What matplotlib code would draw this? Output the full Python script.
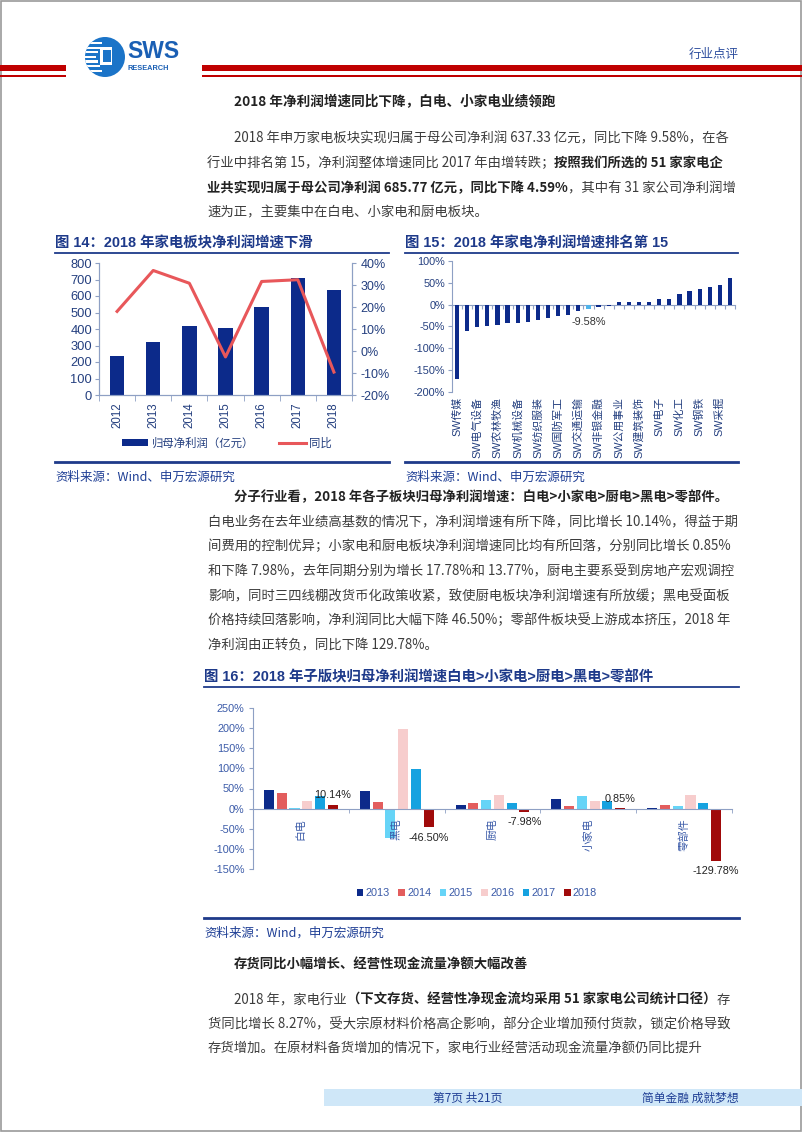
import numpy as np
import matplotlib
matplotlib.use('Agg')
import matplotlib.pyplot as plt
from matplotlib.patches import Rectangle, Circle

plt.rcParams['font.family'] = ['Liberation Sans', 'Noto Sans CJK SC']
BODY = ['Noto Sans CJK SC', 'DejaVu Sans']

# ---- data ----
years14 = ['2012', '2013', '2014', '2015', '2016', '2017', '2018']
profit14 = [238, 322, 420, 407, 536, 707, 637.33]          # 亿元
yoy14 = [18.0, 36.6, 30.8, -2.7, 31.6, 32.4, -9.58]          # %

industries15 = ['SW传媒', 'SW通信', 'SW电气设备', 'SW计算机', 'SW农林牧渔', 'SW综合',
                'SW机械设备', 'SW汽车', 'SW纺织服装', 'SW轻工制造', 'SW国防军工', 'SW商业贸易',
                'SW交通运输', 'SW家用电器', 'SW非银金融', 'SW医药生物', 'SW公用事业', 'SW银行',
                'SW建筑装饰', 'SW休闲服务', 'SW电子', 'SW有色金属', 'SW化工', 'SW房地产',
                'SW钢铁', 'SW食品饮料', 'SW采掘', 'SW建筑材料']
growth15 = [-171, -60, -51, -49, -47, -43, -42, -40, -35, -31, -27, -24, -14, -9.58,
            -6, -4, 5, 6, 6, 7, 12, 14, 25, 32, 35, 40, 45, 62]
highlight15 = 'SW家用电器'

sectors16 = ['白电', '黑电', '厨电', '小家电', '零部件']
years16 = ['2013', '2014', '2015', '2016', '2017', '2018']
growth16 = {
    '2013': [45.8, 43, 9, 25, 2.5],
    '2014': [38, 17, 15, 7.5, 9],
    '2015': [0.5, -72, 21, 31, 7.5],
    '2016': [20, 197, 35, 20, 35],
    '2017': [32, 98, 13.77, 17.78, 14],
    '2018': [10.14, -46.50, -7.98, 0.85, -129.78],
}
colors16 = ['#0c2a8a', '#e35d5d', '#66d4f7', '#f7cdcd', '#16a2e0', '#a00a0a']

W, H = 802, 1133
NAVY = '#0c2a8a'
AX = '#8ea0c4'
TICK = '#243f7f'
TITLE = '#1e3a8a'
SRC = '#1f3f95'
TXT = '#3c3c3c'

fig = plt.figure(figsize=(W / 100, H / 100), dpi=100)
bg = fig.add_axes([0, 0, 1, 1], zorder=0)
bg.set_xlim(0, W)
bg.set_ylim(H, 0)
bg.axis('off')
renderer = fig.canvas.get_renderer()


def box(x0, y0, x1, y1):
    return [x0 / W, 1 - y1 / H, (x1 - x0) / W, (y1 - y0) / H]


def line(x, y, parts, size=9.6, color=TXT):
    for s, bold in parts:
        t = bg.text(x, y, s, fontsize=size, family=BODY, color='#222222' if bold else color,
                    fontweight='bold' if bold else 'normal', va='center', ha='left')
        x += t.get_window_extent(renderer).width


# ---- page frame and header ----
bg.add_patch(Rectangle((0.5, 0.5), W - 1.5, H - 3, fill=False, ec='#9a9a9a', lw=1.2))
bg.add_patch(Rectangle((0, 65), 66, 6, color='#c00000', lw=0))
bg.add_patch(Rectangle((0, 75), 66, 1.5, color='#c00000', lw=0))
bg.add_patch(Rectangle((202, 65), 600, 6, color='#c00000', lw=0))
bg.add_patch(Rectangle((202, 75), 600, 1.5, color='#c00000', lw=0))
logo = Circle((105, 57), 20, color='#1b74c8', lw=0)
bg.add_patch(logo)
for k in range(7):
    s = Rectangle((84, 42 + k * 4.6), 12 + 2 * abs(3 - k), 2.2, color='white', lw=0)
    bg.add_patch(s)
    s.set_clip_path(logo)
bg.add_patch(Rectangle((100, 47), 12, 18, color='white', lw=0))
bg.add_patch(Rectangle((103, 50), 8, 12, color='#1b74c8', lw=0))
bg.text(127, 52, 'SWS', fontsize=16.5, fontweight='bold', color='#1a5fb4', va='center', ha='left')
bg.text(128, 68.5, 'RESEARCH', fontsize=5.3, fontweight='bold', color='#1a5fb4', va='center', ha='left')
bg.text(739, 54, '行业点评', fontsize=9, family=BODY, color='#2f4f9f', va='center', ha='right')

# ---- section 1 text ----
line(234, 102, [('2018 年净利润增速同比下降，白电、小家电业绩领跑', True)], size=9.8)
line(234, 138, [('2018 年申万家电板块实现归属于母公司净利润 637.33 亿元，同比下降 9.58%，在各', False)])
line(207, 163, [('行业中排名第 15，净利润整体增速同比 2017 年由增转跌；', False),
                ('按照我们所选的 51 家家电企', True)])
line(207, 188, [('业共实现归属于母公司净利润 685.77 亿元，同比下降 4.59%', True),
                ('，其中有 31 家公司净利润增', False)])
line(207, 212, [('速为正，主要集中在白电、小家电和厨电板块。', False)])

# ---- chart titles / rules ----
bg.text(55, 243, '图 14：2018 年家电板块净利润增速下滑', fontsize=10.4, fontweight='bold',
        color=TITLE, va='center')
bg.plot([55, 389], [253, 253], color=TITLE, lw=1.3)
bg.text(405, 243, '图 15：2018 年家电净利润增速排名第 15', fontsize=10.4, fontweight='bold',
        color=TITLE, va='center')
bg.plot([405, 738], [253, 253], color=TITLE, lw=1.3)
bg.plot([55, 389], [462, 462], color=TITLE, lw=2)
bg.plot([405, 738], [462, 462], color=TITLE, lw=2)
bg.text(55, 477, '资料来源：Wind、申万宏源研究', fontsize=9, family=BODY, color=SRC, va='center')
bg.text(405, 477, '资料来源：Wind、申万宏源研究', fontsize=9, family=BODY, color=SRC, va='center')

# ---- chart 14 ----
ax = fig.add_axes(box(99, 263, 352, 395))
x14 = np.arange(len(years14))
bars14 = ax.bar(x14, profit14, width=0.4, color=NAVY)
ax.set_xlim(-0.5, len(years14) - 0.5)
ax.set_ylim(0, 800)
ax.set_yticks(range(0, 801, 100))
ax.set_xticks(x14)
ax.set_xticklabels(years14, rotation=90)
ax.set_xticks(np.arange(-0.5, len(years14)), minor=True)
ax.tick_params(axis='x', which='major', length=0, pad=5, labelsize=8.3, labelcolor=TICK)
ax.tick_params(axis='x', which='minor', length=4, color=AX)
ax.tick_params(axis='y', length=3, color=AX, labelsize=9.3, labelcolor=TICK, pad=2)
ax.spines['top'].set_visible(False)
for sp in ['left', 'right', 'bottom']:
    ax.spines[sp].set_color(AX)
ax2 = ax.twinx()
ln14, = ax2.plot(x14, yoy14, color='#e8575a', lw=2.2)
ax2.set_ylim(-20, 40)
ax2.set_yticks(range(-20, 41, 10))
ax2.set_yticklabels([f'{v}%' for v in range(-20, 41, 10)])
ax2.tick_params(axis='y', length=3, color=AX, labelsize=9, labelcolor=TICK, pad=3)
ax2.spines['top'].set_visible(False)
for sp in ['left', 'right', 'bottom']:
    ax2.spines[sp].set_color(AX)
ax.legend([bars14, ln14], ['归母净利润（亿元）', '同比'], ncol=2, loc='center',
          bbox_to_anchor=(227 / W, 1 - 443 / H), bbox_transform=fig.transFigure,
          frameon=False, fontsize=8.2, handlelength=2.3, handleheight=0.5,
          columnspacing=2.2, handletextpad=0.3, labelcolor=TICK)

# ---- chart 15 ----
ax = fig.add_axes(box(452, 261, 735, 392))
x15 = np.arange(len(industries15))
cols15 = ['#4fb3ea' if n == highlight15 else NAVY for n in industries15]
ax.bar(x15, growth15, width=0.42, color=cols15)
ax.set_xlim(-0.5, len(industries15) - 0.5)
ax.set_ylim(-200, 100)
ax.set_yticks(range(-200, 101, 50))
ax.set_yticklabels([f'{v}%' for v in range(-200, 101, 50)])
ax.tick_params(axis='y', length=3, color=AX, labelsize=7.8, labelcolor=TICK, pad=2)
ax.set_xticks(x15)
ax.set_xticklabels(industries15, rotation=90)
for k, lbl in enumerate(ax.get_xticklabels()):
    lbl.set_visible(k % 2 == 0)
ax.tick_params(axis='x', length=0, pad=3.5, labelsize=7.8, labelcolor=TICK)
for sp in ['top', 'right', 'bottom']:
    ax.spines[sp].set_visible(False)
ax.spines['left'].set_color(AX)
sec = ax.secondary_xaxis(200 / 300)
sec.set_xticks(np.arange(-0.5, len(industries15)))
sec.tick_params(axis='x', length=3, direction='in', color=AX, labeltop=False, labelbottom=False)
for sp in sec.spines.values():
    sp.set_color(AX)
hi = industries15.index(highlight15)
ax.annotate(f'{growth15[hi]:.2f}%', (hi, growth15[hi]), xytext=(0, -6), textcoords='offset points',
            ha='center', va='top', fontsize=7.8, color='#333333')

# ---- section 2 text ----
line(234, 497, [('分子行业看，2018 年各子板块归母净利润增速：白电>小家电>厨电>黑电>零部件。', True)])
line(208, 522, [('白电业务在去年业绩高基数的情况下，净利润增速有所下降，同比增长 10.14%，得益于期', False)])
line(208, 546, [('间费用的控制优异；小家电和厨电板块净利润增速同比均有所回落，分别同比增长 0.85%', False)])
line(208, 571, [('和下降 7.98%，去年同期分别为增长 17.78%和 13.77%，厨电主要系受到房地产宏观调控', False)])
line(208, 596, [('影响，同时三四线棚改货币化政策收紧，致使厨电板块净利润增速有所放缓；黑电受面板', False)])
line(208, 620, [('价格持续回落影响，净利润同比大幅下降 46.50%；零部件板块受上游成本挤压，2018 年', False)])
line(208, 645, [('净利润由正转负，同比下降 129.78%。', False)])

# ---- chart 16 ----
bg.text(204, 677, '图 16：2018 年子版块归母净利润增速白电>小家电>厨电>黑电>零部件', fontsize=10.4,
        fontweight='bold', color=TITLE, va='center')
bg.plot([204, 739], [687, 687], color=TITLE, lw=1.3)
bg.plot([204, 739], [918, 918], color=TITLE, lw=2)
bg.text(204, 933, '资料来源：Wind，申万宏源研究', fontsize=9, family=BODY, color=SRC, va='center')

ax = fig.add_axes(box(253, 708, 732, 869))
x16 = np.arange(len(sectors16))
step, bw = 0.133, 0.105
handles16 = []
for i, yr in enumerate(years16):
    b = ax.bar(x16 + (i - 2.5) * step, growth16[yr], width=bw, color=colors16[i])
    handles16.append(b)
last = years16[-1]
for j, v in enumerate(growth16[last]):
    up = v >= 0
    ax.annotate(f'{v:.2f}%', (x16[j] + 2.5 * step, v), xytext=(0, 3 if up else -4),
                textcoords='offset points', ha='center', va='bottom' if up else 'top',
                fontsize=7.8, color='#222222')
ax.set_xlim(-0.5, len(sectors16) - 0.5)
ax.set_ylim(-150, 250)
ax.set_yticks(range(-150, 251, 50))
ax.set_yticklabels([f'{v}%' for v in range(-150, 251, 50)])
ax.tick_params(axis='y', length=3, color=AX, labelsize=7.8, labelcolor='#3a5aa8', pad=3)
ax.spines['bottom'].set_position(('data', 0))
ax.set_xticks(x16)
ax.set_xticklabels(sectors16, rotation=90)
ax.set_xticks(np.arange(-0.5, len(sectors16)), minor=True)
ax.tick_params(axis='x', which='major', length=0, pad=7, labelsize=7.8, labelcolor='#3a5aa8')
ax.tick_params(axis='x', which='minor', length=3, color=AX)
for sp in ['top', 'right']:
    ax.spines[sp].set_visible(False)
ax.spines['left'].set_color(AX)
ax.spines['bottom'].set_color(AX)
ax.legend(handles16, years16, ncol=6, loc='center', bbox_to_anchor=(477 / W, 1 - 893 / H),
          bbox_transform=fig.transFigure, frameon=False, fontsize=7.8, handlelength=0.6,
          handleheight=0.6, handletextpad=0.2, columnspacing=0.8, labelcolor='#3a5aa8')

# ---- section 3 text ----
line(234, 965, [('存货同比小幅增长、经营性现金流量净额大幅改善', True)])
line(234, 1000, [('2018 年，家电行业', False),
                 ('（下文存货、经营性净现金流均采用 51 家家电公司统计口径）', True),
                 ('存', False)])
line(208, 1024, [('货同比增长 8.27%，受大宗原材料价格高企影响，部分企业增加预付货款，锁定价格导致', False)])
line(208, 1048, [('存货增加。在原材料备货增加的情况下，家电行业经营活动现金流量净额仍同比提升', False)])

# ---- footer ----
bg.add_patch(Rectangle((324, 1089), 478, 17, color='#cfe7f8', lw=0))
bg.text(468, 1098, '第7页 共21页', fontsize=8.5, family=BODY, color='#1f3f95', va='center', ha='center')
bg.text(739, 1098, '简单金融 成就梦想', fontsize=8.5, family=BODY, color='#1f3f95', va='center', ha='right')

fig.savefig('out.png', dpi=100)
